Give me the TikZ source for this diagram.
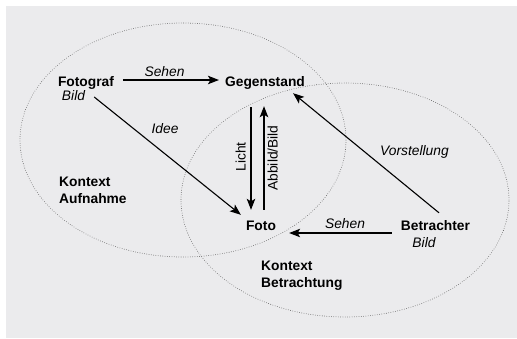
\documentclass[tikz,border=0pt]{standalone}
\usepackage{fontspec}
\setmainfont{Liberation Sans}
\usetikzlibrary{arrows.meta}
\definecolor{bg}{RGB}{235,235,237}
\definecolor{dotc}{RGB}{85,85,85}
\tikzset{
  txt/.style={inner sep=0pt, text height=10pt, text depth=3pt, font=\fontsize{13.8}{17}\selectfont},
  bold/.style={txt, font=\fontsize{13.8}{17}\selectfont\bfseries},
  ital/.style={txt, font=\fontsize{13.8}{17}\selectfont\itshape},
  ctx/.style={inner sep=0pt, align=left, font=\fontsize{13.8}{17}\selectfont\bfseries},
  arr/.style={line width=1.1pt, -{Stealth[length=11pt,width=8.5pt,inset=2.5pt]}},
  ctxline/.style={dotc, line width=0.8pt, dash pattern=on 0pt off 2.3pt, line cap=round}
}
\begin{document}
\begin{tikzpicture}[x=1pt,y=-1pt]
\useasboundingbox (0,0) rectangle (517,338);
\fill[bg] (6,6) rectangle (517,338);
% context ellipses
\draw[ctxline] (183,140) ellipse [x radius=163pt, y radius=117pt];
\draw[ctxline] (345,200) ellipse [x radius=164pt, y radius=117pt];
% nodes
\node[bold, anchor=base] (fotograf) at (86,86) {Fotograf};
\node[ital, anchor=base] (bild1) at (73.5,100) {Bild};
\node[bold, anchor=base] (gegenstand) at (265,86) {Gegenstand};
\node[bold, anchor=base] (foto) at (261,230) {Foto};
\node[bold, anchor=base] (betrachter) at (435.5,230) {Betrachter};
\node[ital, anchor=base] (bild2) at (424,247) {Bild};
\node[ctx, anchor=north west] (kauf) at (59,177) {Kontext\\Aufnahme};
\node[ctx, anchor=north west] (kbet) at (261,261) {Kontext\\Betrachtung};
% labels
\node[ital, anchor=base] (sehen1) at (164.5,76) {Sehen};
\node[ital, anchor=base] (idee) at (165,133) {Idee};
\node[ital, anchor=base] (vorst) at (414.5,155) {Vorstellung};
\node[ital, anchor=base] (sehen2) at (345,228) {Sehen};
\node[txt, rotate=90] (licht) at (242,157) {Licht};
\node[txt, rotate=90] (abbild) at (274,158) {Abbild/Bild};
% connectors
\draw[arr] ([xshift=8.6pt,yshift=2.5pt]fotograf.east) -- ([xshift=-6pt,yshift=2.5pt]gegenstand.west);
\draw[arr] ([xshift=9pt,yshift=-0.5pt]bild1.east) -- ([xshift=-5pt,yshift=5pt]foto.north west);
\draw[arr] ([xshift=-14pt,yshift=-18pt]gegenstand.south) -- ([xshift=-10pt,yshift=10pt]foto.north);
\draw[arr] ([xshift=3pt,yshift=10pt]foto.north) -- ([xshift=-1pt,yshift=-17pt]gegenstand.south);
\draw[arr] ([xshift=3.5pt,yshift=7pt]betrachter.north) -- ([xshift=-12pt,yshift=-4pt]gegenstand.south east);
\draw[arr] ([xshift=-9pt,yshift=-6.5pt]betrachter.west) -- ([xshift=13pt,yshift=-6.5pt]foto.east);
\end{tikzpicture}
\end{document}
